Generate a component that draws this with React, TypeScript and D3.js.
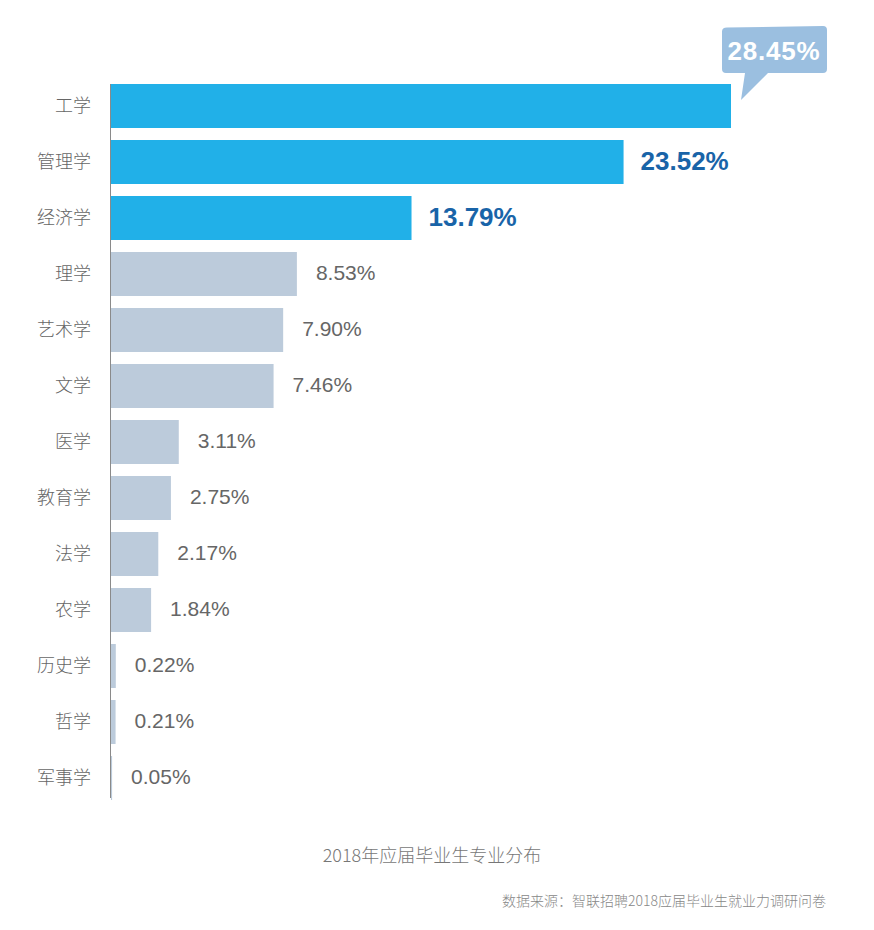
import React from "react";
import * as d3 from "d3";

const categories = ["工学", "管理学", "经济学", "理学", "艺术学", "文学", "医学", "教育学", "法学", "农学", "历史学", "哲学", "军事学"];
const values = [28.45, 23.52, 13.79, 8.53, 7.9, 7.46, 3.11, 2.75, 2.17, 1.84, 0.22, 0.21, 0.05];
const labels = ["28.45%", "23.52%", "13.79%", "8.53%", "7.90%", "7.46%", "3.11%", "2.75%", "2.17%", "1.84%", "0.22%", "0.21%", "0.05%"];
const highlightCount = 3;
const title = "2018年应届毕业生专业分布";
const source = "数据来源：智联招聘2018应届毕业生就业力调研问卷";

const W = 874;
const H = 930;
const FONT = "'Liberation Sans', Arial, 'Noto Sans CJK SC', sans-serif";
const CJK = "'Noto Sans CJK SC', sans-serif";

export default function App() {
  const x0 = 111;
  const x = d3.scaleLinear().domain([0, 28.45]).range([x0, 731]);
  const y = d3
    .scaleBand<string>()
    .domain(categories)
    .range([84 - 6, 84 - 6 + 56 * categories.length])
    .paddingInner(12 / 56)
    .paddingOuter(6 / 56);
  const bw = y.bandwidth();

  const topX = x(values[0]);
  const topY = y(categories[0])!;

  return (
    <div style={{ margin: -8 }}>
      <svg width={W} height={H} style={{ display: "block", fontFamily: FONT }}>
        <rect width={W} height={H} fill="#fff" />
        {categories.map((c, i) => {
          const yy = y(c)!;
          const hi = i < highlightCount;
          return (
            <g key={c}>
              <rect x={x0} y={yy} width={x(values[i]) - x0} height={bw} fill={hi ? "#21b0e8" : "#bccbdb"} />
              <text x={91} y={yy + bw / 2} dy="0.34em" textAnchor="end" fontSize={18} fontWeight={300} fill="#666" fontFamily={CJK}>
                {c}
              </text>
              {i > 0 && (
                <text
                  x={x(values[i]) + (hi ? 17 : 19)}
                  y={yy + bw / 2}
                  dy="0.3em"
                  fontSize={hi ? 26 : 21}
                  fontWeight={hi ? "bold" : "normal"}
                  fill={hi ? "#1964a8" : "#666"}
                >
                  {labels[i]}
                </text>
              )}
            </g>
          );
        })}
        <line x1={110.5} x2={110.5} y1={84} y2={798} stroke="#8a8a8a" strokeWidth={1} />
        {/* callout bubble */}
        <path
          d={`M${topX - 4},27.5 L${topX + 92},26 Q${topX + 96},26 ${topX + 96},30 L${topX + 96},69 Q${topX + 96},73 ${topX + 92},73 L${topX + 37},73 L${topX + 10},${topY + 16} L${topX + 14},73 L${topX - 5},73 Q${topX - 9},73 ${topX - 9},69 L${topX - 9},31.5 Q${topX - 9},27.5 ${topX - 4},27.5 Z`}
          fill="#9bbfe0"
        />
        <text x={topX + 43} y={51} dy="0.34em" textAnchor="middle" fontSize={26} letterSpacing={0.8} fontWeight="bold" fill="#fff">
          {labels[0]}
        </text>
        <text x={432} y={856} dy="0.36em" textAnchor="middle" fontSize={18} fontWeight={300} fill="#777" fontFamily={CJK}>
          {title}
        </text>
        <text x={826} y={901} dy="0.36em" textAnchor="end" fontSize={14} fontWeight={300} fill="#888" fontFamily={CJK}>
          {source}
        </text>
      </svg>
    </div>
  );
}
